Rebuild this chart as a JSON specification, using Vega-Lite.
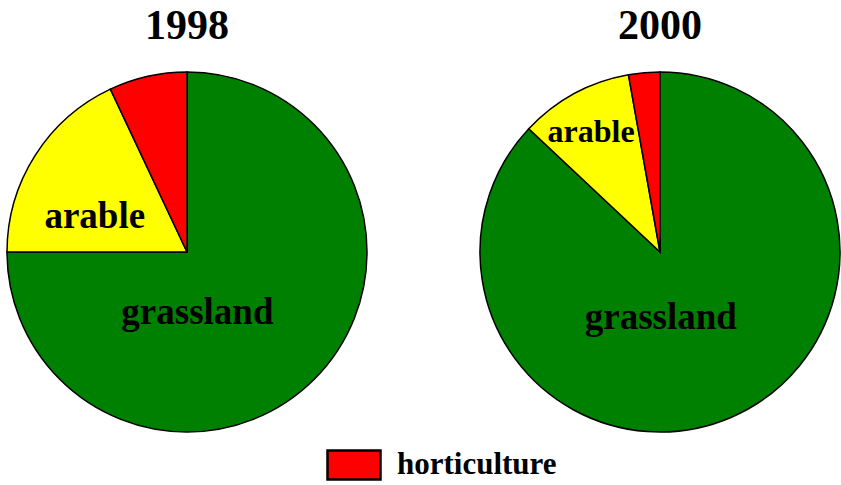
{
  "$schema": "https://vega.github.io/schema/vega-lite/v6.json",
  "padding": {"left": 4, "top": 5, "right": 0, "bottom": 0},
  "bounds": "flush",
  "background": "white",
  "data": {
    "values": [
      {"year": "1998", "category": "grassland", "share": 75},
      {"year": "1998", "category": "arable", "share": 18},
      {"year": "1998", "category": "horticulture", "share": 7},
      {"year": "2000", "category": "grassland", "share": 87},
      {"year": "2000", "category": "arable", "share": 10.2},
      {"year": "2000", "category": "horticulture", "share": 2.8}
    ]
  },
  "transform": [
    {"calculate": "indexof(['grassland','arable','horticulture'], datum.category)", "as": "rank"}
  ],
  "facet": {
    "column": {
      "field": "year",
      "type": "nominal",
      "header": {
        "title": null,
        "labelFont": "Liberation Serif",
        "labelFontSize": 42,
        "labelFontWeight": "bold",
        "labelColor": "black",
        "labelPadding": 24
      }
    }
  },
  "spacing": 113,
  "spec": {
    "width": 360,
    "height": 360,
    "encoding": {
      "theta": {"field": "share", "type": "quantitative", "stack": true},
      "order": {"field": "rank", "type": "quantitative"}
    },
    "layer": [
      {
        "mark": {"type": "arc", "stroke": "black", "strokeWidth": 1.5},
        "encoding": {
          "color": {
            "field": "category",
            "type": "nominal",
            "scale": {
              "domain": ["grassland", "arable", "horticulture"],
              "range": ["#008000", "#FFFF00", "#FF0000"]
            },
            "legend": {
              "values": ["horticulture"],
              "title": null,
              "orient": "none",
              "legendX": 319,
              "legendY": 365,
              "symbolType": "M-1,-0.55H1V0.55H-1Z",
              "symbolSize": 2809,
              "symbolStrokeColor": "black",
              "symbolStrokeWidth": 2.5,
              "symbolOpacity": 1,
              "labelFont": "Liberation Serif",
              "labelFontSize": 31,
              "labelFontWeight": "bold",
              "labelColor": "black",
              "labelOffset": 15
            }
          }
        }
      },
      {
        "mark": {
          "type": "text",
          "font": "Liberation Serif",
          "fontWeight": "bold",
          "align": "center",
          "baseline": "alphabetic",
          "color": "black",
          "radius": {"expr": "datum.category == 'grassland' ? 60 : (datum.year == '2000' ? 130 : 95)"},
          "dx": {"expr": "datum.category == 'grassland' ? (datum.year == '2000' ? -23 : -32) : (datum.year == '2000' ? -7 : -12)"},
          "dy": {"expr": "datum.category == 'grassland' ? (datum.year == '2000' ? 22 : 30) : (datum.year == '2000' ? 4 : 27)"}
        },
        "encoding": {
          "text": {
            "field": "category",
            "condition": {"test": "datum.category == 'horticulture'", "value": ""}
          },
          "size": {
            "condition": {"test": "datum.year == '2000' && datum.category == 'arable'", "value": 32},
            "value": 37
          }
        }
      }
    ]
  },
  "config": {"view": {"stroke": null}}
}
